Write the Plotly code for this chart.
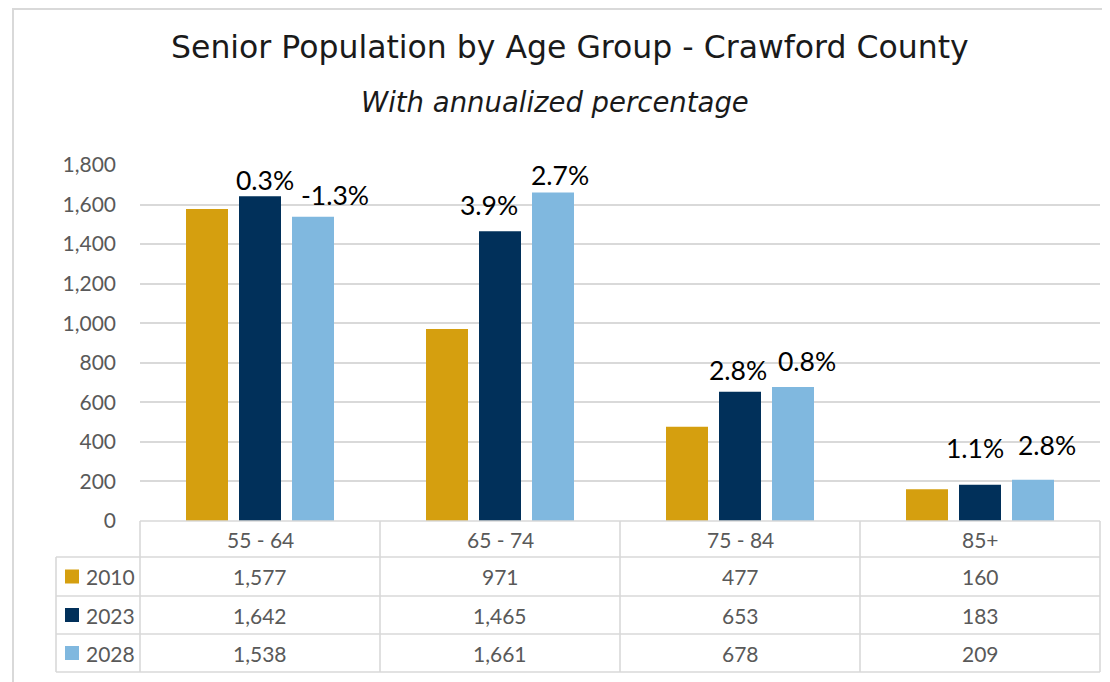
import plotly.graph_objects as go

# ---- data ----
categories = ["55 - 64", "65 - 74", "75 - 84", "85+"]
years = ["2010", "2023", "2028"]
pop_2010 = [1577, 971, 477, 160]
pop_2023 = [1642, 1465, 653, 183]
pop_2028 = [1538, 1661, 678, 209]
pct_2023 = ["0.3%", "3.9%", "2.8%", "1.1%"]
pct_2028 = ["-1.3%", "2.7%", "0.8%", "2.8%"]
y_ticks = [0, 200, 400, 600, 800, 1000, 1200, 1400, 1600, 1800]

# ---- styles ----
colors = ["#D59F0F", "#01305A", "#80B8DF"]
W, H = 1110, 682
OFF = 8  # page body margin in the browser
GRID = "#D9D9D9"
TXT = "#595959"
FONT = "Lato"
TITLE_FONT = "DejaVu Sans"

def px(x):
    return (x - OFF) / W

def py(y):
    return 1 - (y - OFF) / H

series = [pop_2010, pop_2023, pop_2028]

fig = go.Figure()
for name, vals, col in zip(years, series, colors):
    fig.add_trace(go.Bar(
        x=categories, y=vals, name=name,
        marker=dict(color=col, line=dict(width=0)),
        showlegend=False,
    ))

# plot area in pixels (page coordinates)
PL, PR, PT, PB = 140, 1100, 165, 521

shapes = []
annotations = []

# outer frame
shapes.append(dict(type="rect", xref="paper", yref="paper",
                   x0=px(13), x1=px(1140), y0=py(9), y1=py(720),
                   line=dict(color="#D9D9D9", width=2), layer="below"))

# table lines
lw = 1.6
shapes.append(dict(type="line", xref="paper", yref="paper",
                   x0=px(PL), x1=px(PR), y0=py(PB), y1=py(PB),
                   line=dict(color=GRID, width=lw)))
for yy in [557, 596, 634, 672]:
    shapes.append(dict(type="line", xref="paper", yref="paper",
                       x0=px(56), x1=px(PR), y0=py(yy), y1=py(yy),
                       line=dict(color=GRID, width=lw)))
for xx in [140, 380, 620, 860, 1100]:
    shapes.append(dict(type="line", xref="paper", yref="paper",
                       x0=px(xx), x1=px(xx), y0=py(PB), y1=py(672),
                       line=dict(color=GRID, width=lw)))
shapes.append(dict(type="line", xref="paper", yref="paper",
                   x0=px(56), x1=px(56), y0=py(557), y1=py(672),
                   line=dict(color=GRID, width=lw)))

# header labels
for c in categories:
    annotations.append(dict(x=c, xref="x", y=py(539), yref="paper",
                            text=c, showarrow=False,
                            font=dict(family=FONT, size=21, color=TXT),
                            xanchor="center", yanchor="middle"))

row_centers = [576.5, 615, 653]
for r, (name, vals, col) in enumerate(zip(years, series, colors)):
    yc = row_centers[r]
    shapes.append(dict(type="rect", xref="paper", yref="paper",
                       x0=px(65), x1=px(79), y0=py(yc - 7), y1=py(yc + 7),
                       fillcolor=col, line=dict(width=0)))
    annotations.append(dict(x=px(84), xref="paper", y=py(yc), yref="paper",
                            text=name, showarrow=False,
                            font=dict(family=FONT, size=21, color=TXT),
                            xanchor="left", yanchor="middle"))
    for c, v in zip(categories, vals):
        annotations.append(dict(x=c, xref="x", y=py(yc), yref="paper",
                                text=f"{v:,}", showarrow=False,
                                font=dict(family=FONT, size=21, color=TXT),
                                xanchor="center", yanchor="middle"))

# percentage labels (manually nudged as in original)
slot = (1 - 0.3375) / 3
shift_2023 = [(5, 16), (-11, 26), (-2.5, 22), (-5.5, 37)]
shift_2028 = [(22, 22), (7, 17.5), (14, 26), (13.5, 35)]
for j, (vals, labels, shifts) in enumerate([(pop_2023, pct_2023, shift_2023),
                                            (pop_2028, pct_2028, shift_2028)]):
    for i, (v, t, (dx, dy)) in enumerate(zip(vals, labels, shifts)):
        annotations.append(dict(x=i + j * slot, xref="x", y=v, yref="y",
                                text=t, showarrow=False,
                                xshift=dx, yshift=dy,
                                font=dict(family=FONT, size=26.5, color="#000000"),
                                xanchor="center", yanchor="middle"))

# titles
annotations.append(dict(x=px(570), y=py(47), xref="paper", yref="paper",
                        text="Senior Population by Age Group - Crawford County",
                        showarrow=False,
                        font=dict(family=TITLE_FONT, size=31.5, color="#1A1A1A"),
                        xanchor="center", yanchor="middle"))
annotations.append(dict(x=px(555), y=py(102), xref="paper", yref="paper",
                        text="<i>With annualized percentage</i>",
                        showarrow=False,
                        font=dict(family=TITLE_FONT, size=27.5, color="#1A1A1A"),
                        xanchor="center", yanchor="middle"))

fig.update_layout(
    width=W, height=H,
    autosize=False,
    margin=dict(l=0, r=0, t=0, b=0, pad=0, autoexpand=False),
    paper_bgcolor="white", plot_bgcolor="white",
    barmode="group", bargap=0.3375, bargroupgap=0.2075,
    xaxis=dict(domain=[px(PL), px(PR)], type="category", automargin=False,
               range=[-0.5, 3.5], showticklabels=False,
               showgrid=False, zeroline=False, showline=False, ticks=""),
    yaxis=dict(domain=[py(PB), py(PT)], range=[0, 1800], automargin=False,
               tickvals=y_ticks, tickformat=",",
               tickfont=dict(family=FONT, size=21, color=TXT),
               showgrid=True, gridcolor=GRID, gridwidth=1.6,
               zeroline=False, showline=False, ticks="",
               ticklabelstandoff=23),
    shapes=shapes,
    annotations=annotations,
    font=dict(family=FONT),
)

fig.write_html("out.html")
